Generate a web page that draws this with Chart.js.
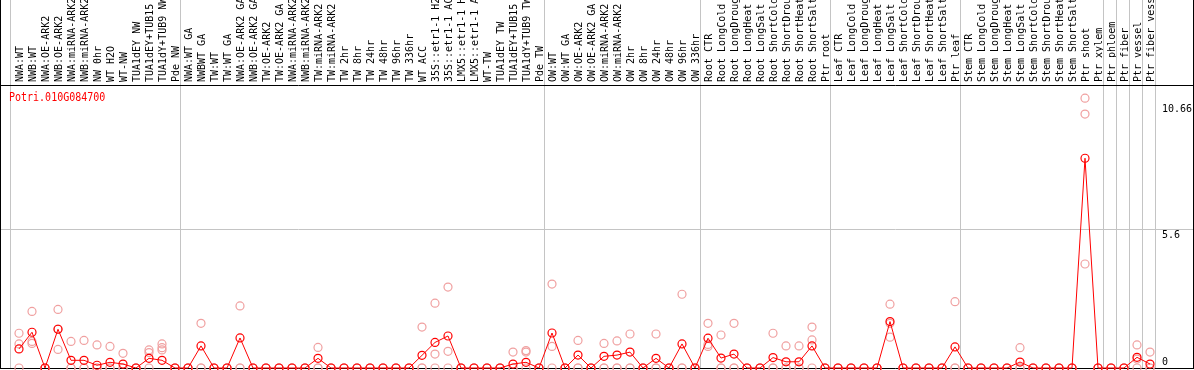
<!DOCTYPE html>
<html>
<head>
<meta charset="utf-8">
<script src="https://cdn.jsdelivr.net/npm/chart.js@4.4.1/dist/chart.umd.min.js"></script>
<style>
  html, body { margin: 0; padding: 0; background: #fff; }
</style>
</head>
<body>
<canvas id="expr-chart" width="1194" height="370"></canvas>
<script>

/* Data */

const geneName = "Potri.010G084700";

const samples = [
  "NWA:WT", "NWB:WT", "NWA:OE-ARK2", "NWB:OE-ARK2", "NWA:miRNA-ARK2", "NWB:miRNA-ARK2",
  "NW 0hr", "WT H2O", "WT-NW", "TUA1dEY NW", "TUA1dEY+TUB15 NW", "TUA1dY+TUB9 NW", "Pde NW",
  "NWA:WT GA", "NWBWT GA", "TW:WT", "TW:WT GA", "NWA:OE-ARK2 GA", "NWB:OE-ARK2 GA",
  "TW:OE-ARK2", "TW:OE-ARK2 GA", "NWA:miRNA-ARK2", "NWB:miRNA-ARK2", "TW:miRNA-ARK2", "TW:miRNA-ARK2",
  "TW 2hr", "TW 8hr", "TW 24hr", "TW 48hr", "TW 96hr", "TW 336hr", "WT ACC",
  "35S::etr1-1 H2O", "35S::etr1-1 ACC", "LMX5::etr1-1 H2O", "LMX5::etr1-1 ACC",
  "WT-TW", "TUA1dEY TW", "TUA1dEY+TUB15 TW", "TUA1dY+TUB9 TW", "Pde TW",
  "OW:WT", "OW:WT GA", "OW:OE-ARK2", "OW:OE-ARK2 GA", "OW:miRNA-ARK2", "OW:miRNA-ARK2",
  "OW 2hr", "OW 8hr", "OW 24hr", "OW 48hr", "OW 96hr", "OW 336hr",
  "Root CTR", "Root LongCold", "Root LongDrought", "Root LongHeat", "Root LongSalt",
  "Root ShortCold", "Root ShortDrought", "Root ShortHeat", "Root ShortSalt", "Ptr root",
  "Leaf CTR", "Leaf LongCold", "Leaf LongDrought", "Leaf LongHeat", "Leaf LongSalt",
  "Leaf ShortCold", "Leaf ShortDrought", "Leaf ShortHeat", "Leaf ShortSalt", "Ptr leaf",
  "Stem CTR", "Stem LongCold", "Stem LongDrought", "Stem LongHeat", "Stem LongSalt",
  "Stem ShortCold", "Stem ShortDrought", "Stem ShortHeat", "Stem ShortSalt", "Ptr shoot",
  "Ptr xylem", "Ptr phloem", "Ptr fiber", "Ptr vessel", "Ptr fiber vessel"
];

// mean expression (red line)
const means = [
  0.77, 1.44, 0, 1.56, 0.31, 0.31, 0.11, 0.23, 0.16, 0, 0.39, 0.31, 0,
  0, 0.89, 0, 0, 1.21, 0, 0, 0, 0, 0, 0.39, 0, 0, 0, 0, 0, 0, 0, 0.51,
  1.03, 1.29, 0, 0, 0, 0, 0.16, 0.23, 0,
  1.41, 0, 0.52, 0, 0.47, 0.52, 0.64, 0, 0.39, 0, 0.97, 0,
  1.20, 0.40, 0.56, 0, 0, 0.42, 0.25, 0.25, 0.89, 0,
  0, 0, 0, 0, 1.87, 0, 0, 0, 0, 0.85,
  0, 0, 0, 0, 0.24, 0, 0, 0, 0, 8.45,
  0, 0, 0, 0.43, 0.16
];

// replicates (pink circles)
const rep1 = [
  1.40, 2.28, 0, 2.36, 1.07, 1.11, 0.93, 0.87, 0.59, 0, 0.73, 0.97, 0,
  0, 1.80, 0, 0, 2.50, 0, 0, 0, 0, 0, 0.83, 0, 0, 0, 0, 0, 0, 0, 1.65,
  2.61, 3.26, 0, 0, 0, 0, 0.64, 0.70, 0,
  3.38, 0, 1.11, 0, 0.99, 1.09, 1.37, 0, 1.37, 0, 2.97, 0,
  1.80, 1.33, 1.80, 0, 0, 1.40, 0.89, 0.89, 1.65, 0,
  0, 0, 0, 0, 2.57, 0, 0, 0, 0, 2.67,
  0, 0, 0, 0, 0.82, 0, 0, 0, 0, 10.87,
  0, 0, 0, 0.93, 0.64
];
const rep2 = [
  0.97, 1.07, 0, 1.57, 0, 0, 0, 0, 0, 0, 0.62, 0.82, 0,
  0, 0, 0, 0, 0, 0, 0, 0, 0, 0, 0, 0, 0, 0, 0, 0, 0, 0, 0,
  0.56, 0.67, 0, 0, 0, 0, 0, 0.64, 0,
  0.87, 0, 0, 0, 0, 0, 0, 0, 0, 0, 0, 0,
  0.95, 0, 0, 0, 0, 0, 0, 0, 1.13, 0,
  0, 0, 0, 0, 1.80, 0, 0, 0, 0, 0,
  0, 0, 0, 0, 0, 0, 0, 0, 0, 10.23,
  0, 0, 0, 0.36, 0
];
const rep3 = [
  0, 0.99, 0, 0.75, 0, 0, 0, 0, 0, 0, 0, 0.73, 0,
  0, 0, 0, 0, 0, 0, 0, 0, 0, 0, 0, 0, 0, 0, 0, 0, 0, 0, 0,
  0, 0, 0, 0, 0, 0, 0, 0, 0,
  0, 0, 0, 0, 0, 0, 0, 0, 0, 0, 0, 0,
  0.87, 0, 0, 0, 0, 0, 0, 0, 0, 0,
  0, 0, 0, 0, 1.24, 0, 0, 0, 0, 0,
  0, 0, 0, 0, 0, 0, 0, 0, 0, 4.19,
  0, 0, 0, 0, 0
];

const yTicks = [0, 5.6, 10.66];

// index of the last sample in each group (a grey line follows it)
const groupEnds = [12, 40, 52, 62, 72, 83, 84, 85, 86, 87];


/* Colours */
const RED = "#ff0000";
const PINK = "#f0a0a0";
const GREY = "#c4c4c4";
const MONO = "DejaVu Sans Mono";


/* Frame + separators */
const framePlugin = {
  id: "frame",
  beforeDatasetsDraw(chart) {
    const ctx = chart.ctx;
    const x = chart.scales.x;
    const y = chart.scales.y;
    const bottom = Math.round(chart.chartArea.bottom) + 0.5;
    const top = Math.round(chart.chartArea.top) + 0.5;
    ctx.save();
    ctx.lineWidth = 1;
    ctx.strokeStyle = GREY;
    ctx.beginPath();
    const lines = [x.getPixelForValue(0) - 9];
    for (const i of groupEnds) lines.push(x.getPixelForValue(i) + 5);
    for (const px of lines) {
      const p = Math.round(px) + 0.5;
      ctx.moveTo(p, 0);
      ctx.lineTo(p, bottom);
    }
    const py = Math.round(y.getPixelForValue(5.6)) + 0.5;
    ctx.moveTo(0, py);
    ctx.lineTo(chart.width, py);
    ctx.stroke();

    ctx.strokeStyle = "#000";
    ctx.beginPath();
    ctx.moveTo(0, top); ctx.lineTo(chart.width, top);
    ctx.moveTo(0, bottom); ctx.lineTo(chart.width, bottom);
    ctx.moveTo(0.5, 0); ctx.lineTo(0.5, bottom);
    ctx.moveTo(chart.width - 0.5, 0); ctx.lineTo(chart.width - 0.5, bottom);
    ctx.stroke();
    ctx.restore();
  },
  afterDraw(chart) {
    const ctx = chart.ctx;
    const y = chart.scales.y;
    ctx.save();
    ctx.font = "10px '" + MONO + "'";
    // gene name
    ctx.fillStyle = RED;
    ctx.textBaseline = "alphabetic";
    ctx.translate(9, 101);
    ctx.scale(1, 1.2);
    ctx.fillText(geneName, 0, 0);
    ctx.restore();

    // y labels on the right
    ctx.save();
    ctx.font = "10px '" + MONO + "'";
    ctx.fillStyle = "#000";
    ctx.textAlign = "left";
    for (const v of yTicks) {
      const py = y.getPixelForValue(v);
      if (v === 0) {
        ctx.textBaseline = "bottom";
        ctx.fillText(String(v), 1162, py - 1);
      } else {
        ctx.textBaseline = "top";
        ctx.fillText(String(v), 1162, py + 1);
      }
    }
    ctx.restore();
  }
};


/* Chart */
const pointStyle = {
  pointStyle: "circle",
  pointRadius: 4,
  pointBorderWidth: 1.2,
  pointBackgroundColor: "rgba(0,0,0,0)",
  clip: false
};

function repDataset(values) {
  return Object.assign({
    data: values,
    showLine: false,
    pointBorderColor: PINK
  }, pointStyle);
}

const ctxExpr = document.getElementById("expr-chart").getContext("2d");

new Chart(ctxExpr, {
  type: "line",
  data: {
    labels: samples,
    datasets: [
      Object.assign({
        data: means,
        borderColor: RED,
        borderWidth: 1,
        tension: 0,
        pointBorderColor: RED
      }, pointStyle),
      repDataset(rep1),
      repDataset(rep2),
      repDataset(rep3)
    ]
  },
  options: {
    responsive: false,
    animation: false,
    devicePixelRatio: 1,
    events: [],
    layout: { autoPadding: false, padding: { left: 12.5, right: 0, top: 0, bottom: 2 } },
    plugins: { legend: { display: false }, tooltip: { enabled: false } },
    scales: {
      x: {
        position: "top",
        offset: true,
        grid: { display: false, drawTicks: false },
        border: { display: false },
        ticks: {
          autoSkip: false,
          minRotation: 90,
          maxRotation: 90,
          padding: 3,
          labelOffset: 13,
          color: "#000",
          font: { family: MONO, size: 10 }
        },
        afterFit: s => { s.height = 85; }
      },
      y: {
        position: "right",
        min: 0,
        max: 11.4,
        grid: { display: false, drawTicks: false },
        border: { display: false },
        ticks: { display: false },
        afterBuildTicks: s => { s.ticks = yTicks.map(v => ({ value: v })); },
        afterFit: s => { s.width = 37.5; }
      }
    }
  },
  plugins: [framePlugin]
});
</script>
</body>
</html>
